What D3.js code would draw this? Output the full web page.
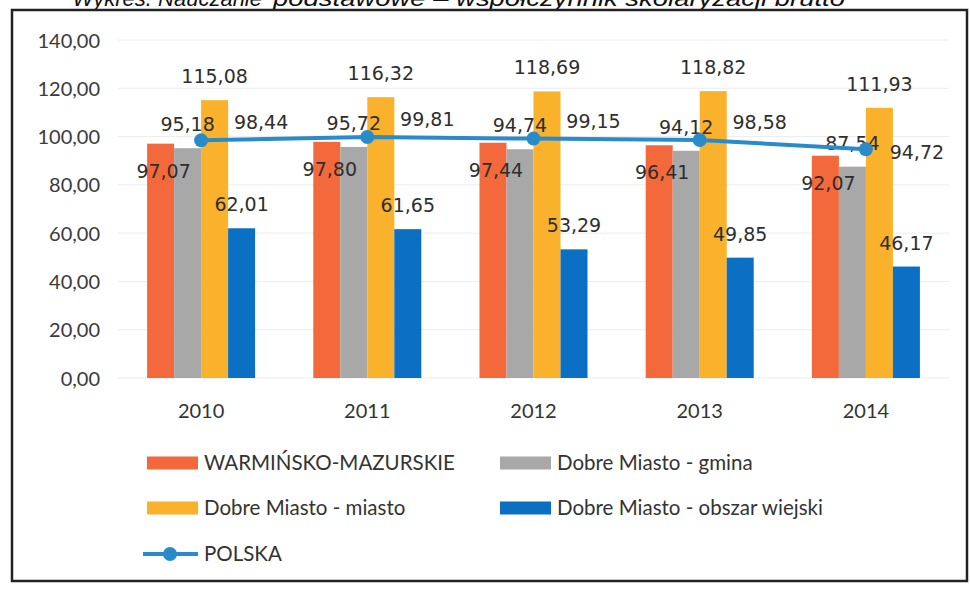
<!DOCTYPE html>
<html>
<head>
<meta charset="utf-8">
<script src="https://cdn.jsdelivr.net/npm/d3@7"></script>
<style>
  html, body { margin: 0; padding: 0; background: #fff; }
  svg { display: block; }
</style>
</head>
<body>
<svg id="chart" width="970" height="589"></svg>
<script>
// ---------- data ----------
const years = ["2010", "2011", "2012", "2013", "2014"];
const seriesNames = ["WARMIŃSKO-MAZURSKIE", "Dobre Miasto - gmina", "Dobre Miasto - miasto", "Dobre Miasto - obszar wiejski"];
const warminskoMazurskie = [97.07, 97.80, 97.44, 96.41, 92.07];
const dobreMiastoGmina = [95.18, 95.72, 94.74, 94.12, 87.54];
const dobreMiastoMiasto = [115.08, 116.32, 118.69, 118.82, 111.93];
const dobreMiastoObszarWiejski = [62.01, 61.65, 53.29, 49.85, 46.17];
const polskaName = "POLSKA";
const polska = [98.44, 99.81, 99.15, 98.58, 94.72];
const yTicks = [0, 20, 40, 60, 80, 100, 120, 140];
const titleStart = "Wykres. Nauczanie";
const titleEnd = "podstawowe – współczynnik skolaryzacji brutto";

const barSeries = [warminskoMazurskie, dobreMiastoGmina, dobreMiastoMiasto, dobreMiastoObszarWiejski];
const colors = ["#f4693b", "#a8a8a8", "#fab22c", "#0b6fc4"];
const lineColor = "#2a8bcb";

// ---------- setup ----------
const svg = d3.select("#chart");
const fmt = v => d3.format(".2f")(v).replace(".", ",");

const y = d3.scaleLinear().domain([0, 140]).range([378, 40]);
const x0 = d3.scaleBand().domain(years).range([118, 949]).paddingInner(0.35).paddingOuter(0.175);
const x1 = d3.scaleBand().domain(d3.range(barSeries.length)).range([0, x0.bandwidth()]).padding(0);

// title (cut off at top, as in the scan)
svg.append("text").attr("x", 262).attr("y", 6)
  .attr("text-anchor", "end")
  .attr("font-family", "Liberation Sans, Arial, sans-serif").attr("font-style", "italic")
  .attr("font-size", 22).attr("fill", "#111").text(titleStart);
svg.append("text").attr("x", 273).attr("y", 6)
  .attr("font-family", "Liberation Sans, Arial, sans-serif").attr("font-style", "italic")
  .attr("font-size", 22).attr("fill", "#111")
  .attr("textLength", 572).attr("lengthAdjust", "spacingAndGlyphs")
  .text(titleEnd);

// frame
svg.append("rect").attr("x", 12).attr("y", 10).attr("width", 955).attr("height", 571)
  .attr("fill", "none").attr("stroke", "#222").attr("stroke-width", 2.5);

// gridlines
svg.append("g").selectAll("line").data(yTicks).join("line")
  .attr("x1", 118).attr("x2", 949)
  .attr("y1", d => y(d)).attr("y2", d => y(d))
  .attr("stroke", "#ececec").attr("stroke-width", 1);

// y axis
const yAxis = d3.axisLeft(y).tickValues(yTicks).tickFormat(fmt).tickSize(0).tickPadding(0);
const gy = svg.append("g").attr("transform", "translate(100,0)").call(yAxis);
gy.select(".domain").remove();
gy.selectAll("text").attr("font-family", "Lato, sans-serif").attr("font-size", 20).attr("fill", "#3a3a3a")
  .attr("dy", "0.35em");

// x axis
const xAxis = d3.axisBottom(x0).tickSize(0).tickPadding(0);
const gx = svg.append("g").attr("transform", "translate(0,404)").call(xAxis);
gx.select(".domain").remove();
gx.selectAll("text").attr("font-family", "Lato, sans-serif").attr("font-size", 20).attr("fill", "#333")
  .attr("dy", "0.71em");

// bars
const groups = svg.append("g").selectAll("g").data(years).join("g")
  .attr("transform", d => `translate(${x0(d)},0)`);
groups.selectAll("rect")
  .data((yr, i) => barSeries.map((s, k) => ({ k, v: s[i] })))
  .join("rect")
  .attr("x", d => x1(d.k))
  .attr("width", x1.bandwidth())
  .attr("y", d => y(d.v))
  .attr("height", d => y(0) - y(d.v))
  .attr("fill", d => colors[d.k]);

// bar labels
const labelFont = "DejaVu Sans, Verdana, sans-serif";
groups.selectAll("text.bl")
  .data((yr, i) => barSeries.map((s, k) => ({ k, v: s[i] })))
  .join("text").attr("class", "bl")
  .attr("x", d => x1(d.k) + x1.bandwidth() / 2 + (d.k === 0 ? 3 : 0))
  .attr("y", d => d.k === 0 ? y(d.v) + 34 : y(d.v) - 17)
  .attr("text-anchor", "middle")
  .attr("font-family", labelFont).attr("font-size", 19).attr("fill", "#2e2e2e")
  .text(d => fmt(d.v));

// POLSKA line
const cx = d => x0(d) + x0.bandwidth() / 2;
const line = d3.line().x((d, i) => cx(years[i])).y(d => y(d));
svg.append("path").datum(polska).attr("d", line)
  .attr("fill", "none").attr("stroke", lineColor).attr("stroke-width", 4).attr("stroke-linejoin", "round");
svg.append("g").selectAll("circle").data(polska).join("circle")
  .attr("cx", (d, i) => cx(years[i])).attr("cy", d => y(d)).attr("r", 7)
  .attr("fill", lineColor);
svg.append("g").selectAll("text").data(polska).join("text")
  .attr("x", (d, i) => cx(years[i]) + (i === polska.length - 1 ? 51 : 60))
  .attr("y", (d, i) => y(d) + (i === polska.length - 1 ? 10 : -11))
  .attr("text-anchor", "middle")
  .attr("font-family", labelFont).attr("font-size", 19).attr("fill", "#2e2e2e")
  .text(d => fmt(d));

// legend
const legendItems = [
  { name: seriesNames[0], color: colors[0], col: 0, row: 0 },
  { name: seriesNames[1], color: colors[1], col: 1, row: 0 },
  { name: seriesNames[2], color: colors[2], col: 0, row: 1 },
  { name: seriesNames[3], color: colors[3], col: 1, row: 1 }
];
const colX = [147, 500];
const rowY = [463, 508, 554];
const lg = svg.append("g");
legendItems.forEach(it => {
  lg.append("rect").attr("x", colX[it.col]).attr("y", rowY[it.row] - 6.5)
    .attr("width", 51).attr("height", 13).attr("fill", it.color);
  lg.append("text").attr("x", colX[it.col] + 57).attr("y", rowY[it.row])
    .attr("dy", "0.35em").attr("font-family", "Lato, sans-serif").attr("font-size", 20.5)
    .attr("fill", "#333").text(it.name);
});
lg.append("line").attr("x1", colX[0] - 4).attr("x2", colX[0] + 51)
  .attr("y1", rowY[2]).attr("y2", rowY[2]).attr("stroke", lineColor).attr("stroke-width", 4);
lg.append("circle").attr("cx", colX[0] + 23).attr("cy", rowY[2]).attr("r", 7).attr("fill", lineColor);
lg.append("text").attr("x", colX[0] + 57).attr("y", rowY[2])
  .attr("dy", "0.35em").attr("font-family", "Lato, sans-serif").attr("font-size", 20.5)
  .attr("fill", "#333").text(polskaName);
</script>
</body>
</html>
